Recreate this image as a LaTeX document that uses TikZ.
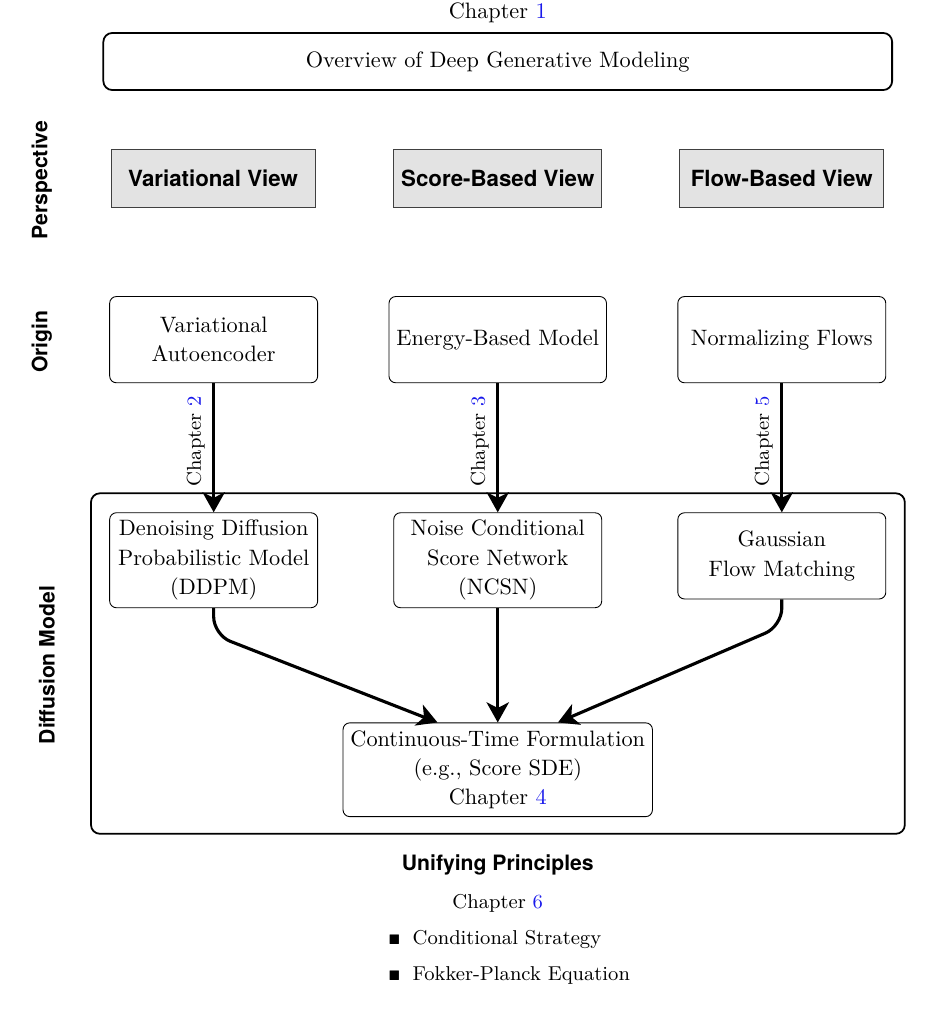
\documentclass[tikz,border=0pt]{standalone}
\usepackage{fontspec}
\setsansfont{TeX Gyre Heros}
\usepackage{amssymb}
\usepackage{tikz}
\usetikzlibrary{arrows.meta}
\definecolor{chapblue}{RGB}{25,25,235}
\newcommand{\chapref}[1]{Chapter~\textcolor{chapblue}{#1}}

\tikzset{
	boxfont/.style={font=\fontsize{10}{13.2}\selectfont},
	viewbox/.style={draw=black!75, fill=black!11, minimum width=3.22cm, minimum height=0.91cm, font=\sffamily\bfseries},
	modelbox/.style={draw, rounded corners=3pt, align=center, minimum width=3.28cm, minimum height=1.36cm, boxfont},
	flowarrow/.style={line width=1.4pt, -{Stealth[length=9pt,width=10pt,inset=2.5pt]}},
	sidelabel/.style={rotate=90, font=\fontsize{9.5}{11}\sffamily\bfseries},
	chaplabel/.style={pos=0.45, rotate=90, anchor=south, font=\small}
}

\begin{document}
\begin{tikzpicture}
			\useasboundingbox (0,0) rectangle (14.89,-16.15);
			% top
			\node (ch1) at (7.85,-0.205) {\chapref{1}};
			\node[draw, thick, rounded corners=4pt, minimum width=12.44cm, minimum height=0.90cm] (overview) at (7.85,-0.97) {Overview of Deep Generative Modeling};
			% side labels
			\node[sidelabel] (lperspective) at (0.66,-2.84) {Perspective};
			\node[sidelabel] (lorigin) at (0.66,-5.39) {Origin};
			\node[sidelabel] (ldiffusion) at (0.74,-10.49) {Diffusion Model};
			% perspectives
			\node[viewbox] (vview) at (3.36,-2.81) {Variational View};
			\node[viewbox] (sview) at (7.85,-2.81) {Score-Based View};
			\node[viewbox] (fview) at (12.33,-2.81) {Flow-Based View};
			% origins
			\node[modelbox, anchor=north] (vae) at (3.37,-4.67) {Variational\\Autoencoder};
			\node[modelbox, anchor=north] (ebm) at (7.85,-4.67) {Energy-Based Model};
			\node[modelbox, anchor=north] (nf) at (12.33,-4.67) {Normalizing Flows};
			% diffusion models
			\draw[thick, rounded corners=4pt] (1.435,-7.78) rectangle (14.27,-13.15);
			\node[modelbox, anchor=north] (ddpm) at (3.37,-8.08) {Denoising Diffusion\\Probabilistic Model\\(DDPM)};
			\node[modelbox, anchor=north] (ncsn) at (7.85,-8.08) {Noise Conditional\\Score Network\\(NCSN)};
			\node[modelbox, anchor=north] (gfm) at (12.33,-8.08) {Gaussian\\Flow Matching};
			\node[modelbox] (ctf) at (7.85,-12.14) {Continuous-Time Formulation\\(e.g., Score SDE)\\\chapref{4}};
			% arrows
			\draw[flowarrow] (vae.south) -- node[chaplabel] {\chapref{2}} (ddpm.north);
			\draw[flowarrow] (ebm.south) -- node[chaplabel] {\chapref{3}} (ncsn.north);
			\draw[flowarrow] (nf.south) -- node[chaplabel] {\chapref{5}} (gfm.north);
			\draw[flowarrow, rounded corners=8pt] (ddpm.south) -- ++(0,-0.42) -- ([xshift=-0.95cm]ctf.north);
			\draw[flowarrow] (ncsn.south) -- (ctf.north);
			\draw[flowarrow, rounded corners=8pt] (gfm.south) -- ++(0,-0.42) -- ([xshift=0.95cm]ctf.north);
			% unifying principles
			\node[font=\fontsize{9.5}{11}\sffamily\bfseries] (unify) at (7.85,-13.64) {Unifying Principles};
			\node[font=\small] (ch6) at (7.85,-14.24) {\chapref{6}};
			\node[anchor=west, font=\small] (cond) at (6.0,-14.81) {{\tiny$\blacksquare$}\hspace{5.5pt}Conditional Strategy};
			\node[anchor=west, font=\small] (fokker) at (6.0,-15.39) {{\tiny$\blacksquare$}\hspace{5.5pt}Fokker-Planck Equation};
		\end{tikzpicture}
\end{document}
